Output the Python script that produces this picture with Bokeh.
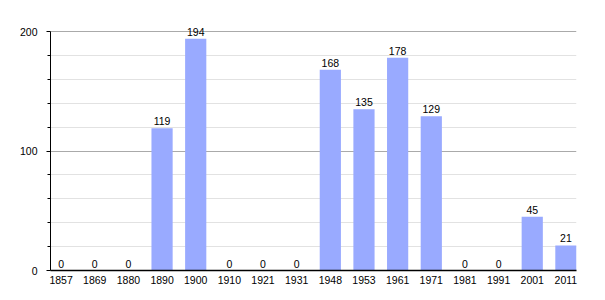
from bokeh.plotting import figure
from bokeh.models import ColumnDataSource, FixedTicker, Range1d
from bokeh.core.properties import value
from bokeh.embed import file_html
from bokeh.resources import INLINE

years = ["1857", "1869", "1880", "1890", "1900", "1910", "1921", "1931",
         "1948", "1953", "1961", "1971", "1981", "1991", "2001", "2011"]
population = [0, 0, 0, 119, 194, 0, 0, 0, 168, 135, 178, 129, 0, 0, 45, 21]
y_ticks = [0, 100, 200]
y_minor = [20, 40, 60, 80, 120, 140, 160, 180]

xs = list(range(len(years)))
src = ColumnDataSource(dict(x=xs, top=population, label=[str(v) for v in population]))

# frame extends above the 200 line so value labels are not clipped
px_per_unit = 239 / 200
y_end = 200 + 23 / px_per_unit

p = figure(width=605, height=300, output_backend="svg", toolbar_location=None,
           x_range=Range1d(-0.315, len(years) - 1 + 0.315), y_range=Range1d(0, y_end),
           min_border_left=50, min_border_right=29, min_border_top=8, min_border_bottom=30)
p.outline_line_color = None
p.background_fill_color = "white"
p.border_fill_color = "white"

p.vbar(x="x", top="top", width=0.63, bottom=0, source=src,
       fill_color="#99aaff", line_color=None)
p.text(x="x", y="top", text="label", source=src, y_offset=-3,
       text_align="center", text_baseline="bottom", text_font_size="10.5px",
       text_font=value("Liberation Sans"), text_color="black")

# grid
p.xgrid.visible = False
p.ygrid.ticker = FixedTicker(ticks=y_ticks, minor_ticks=y_minor)
p.ygrid.grid_line_color = "#aaaaaa"
p.ygrid.minor_grid_line_color = "#e2e2e2"

# y axis
ya = p.yaxis[0]
ya.ticker = FixedTicker(ticks=y_ticks, minor_ticks=y_minor)
ya.bounds = (0, 200)
ya.axis_line_color = "black"
ya.major_tick_out = 4
ya.major_tick_in = 0
ya.minor_tick_out = 3
ya.minor_tick_in = 0
ya.major_tick_line_color = "black"
ya.minor_tick_line_color = "black"
ya.major_label_standoff = 9
ya.major_label_text_font = "Liberation Sans"
ya.major_label_text_font_size = "10.5px"
ya.major_label_text_color = "black"

# x axis
xa = p.xaxis[0]
xa.ticker = FixedTicker(ticks=xs)
xa.major_label_overrides = {i: y for i, y in enumerate(years)}
xa.axis_line_color = "black"
xa.axis_line_width = 1.5
xa.major_tick_out = 0
xa.major_tick_in = 0
xa.minor_tick_line_color = None
xa.major_label_standoff = 5
xa.major_label_text_font = "Liberation Sans"
xa.major_label_text_font_size = "10.5px"
xa.major_label_text_color = "black"

open("out.html", "w").write(file_html(p, INLINE))
